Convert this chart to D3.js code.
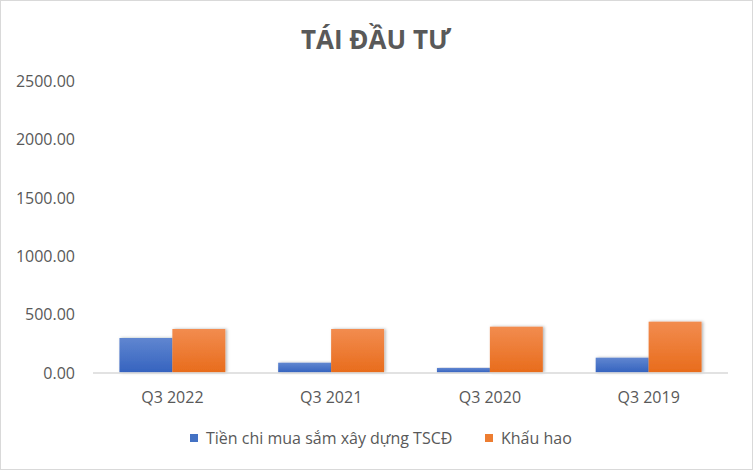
<!DOCTYPE html>
<html><head><meta charset="utf-8">
<script src="https://cdn.jsdelivr.net/npm/d3@7"></script>
<style>body{margin:0;background:#fff}svg{display:block}text{font-family:"Open Sans","Noto Sans",sans-serif}</style>
</head><body>
<svg id="c" width="753" height="470"></svg>
<script>
const categories = ["Q3 2022","Q3 2021","Q3 2020","Q3 2019"];
const seriesNames = ["Tiền chi mua sắm xây dựng TSCĐ","Khấu hao"];
const capex = [296, 84, 39, 127];
const depreciation = [373, 373, 393, 436];
const yTicks = [0,500,1000,1500,2000,2500];
const title = "TÁI ĐẦU TƯ";

const svg = d3.select("#c");
const W=753,H=470;
svg.append("rect").attr("x",0.5).attr("y",0.5).attr("width",W-1).attr("height",H-1).attr("fill","#fff").attr("stroke","#d9d9d9");

const defs = svg.append("defs");
function grad(id,top,bot){
  const g=defs.append("linearGradient").attr("id",id).attr("x1",0).attr("y1",0).attr("x2",0).attr("y2",1);
  g.append("stop").attr("offset","0%").attr("stop-color",top);
  g.append("stop").attr("offset","100%").attr("stop-color",bot);
}
grad("gb","#6086d0","#3563bf");
grad("go","#f28c4f","#e86c1c");
const f=defs.append("filter").attr("id","sh").attr("x","-20%").attr("y","-20%").attr("width","140%").attr("height","140%");
f.append("feDropShadow").attr("dx",1.5).attr("dy",0).attr("stdDeviation",1.5).attr("flood-color","#000").attr("flood-opacity",0.3);

const m={l:93,r:25,t:81,b:97.5};
const x=d3.scaleBand().domain(categories).range([m.l,W-m.r]).paddingInner(0.333).paddingOuter(0.1665);
const x1=d3.scaleBand().domain([0,1]).range([0,x.bandwidth()]);
const y=d3.scaleLinear().domain([0,2500]).range([H-m.b,m.t]);

svg.append("text").attr("x",376).attr("y",49).attr("text-anchor","middle").attr("font-size",26).attr("font-weight","bold").attr("fill","#595959").text(title);

const yAxis=svg.append("g").attr("transform",`translate(${m.l-18},0)`)
  .call(d3.axisLeft(y).tickValues(yTicks).tickFormat(d3.format(".2f")).tickSize(0).tickPadding(0));
yAxis.select(".domain").remove();
yAxis.selectAll("text").attr("font-size",16).attr("fill","#595959").attr("dy","0.35em");

const series=[capex,depreciation];
const fills=["url(#gb)","url(#go)"];
categories.forEach((c,i)=>{
  series.forEach((s,j)=>{
    svg.append("rect").attr("x",x(c)+x1(j)).attr("width",x1.bandwidth())
      .attr("y",y(s[i])).attr("height",y(0)-y(s[i])).attr("fill",fills[j]).attr("filter","url(#sh)");
  });
});

svg.append("line").attr("x1",m.l).attr("x2",W-m.r).attr("y1",y(0)+0.5).attr("y2",y(0)+0.5).attr("stroke","#d9d9d9").attr("stroke-width",1.5);

const xAxis=svg.append("g").attr("transform",`translate(0,${y(0)})`).call(d3.axisBottom(x).tickSize(0).tickPadding(0));
xAxis.select(".domain").remove();
xAxis.selectAll("text").attr("font-size",16).attr("fill","#595959").attr("dy","1.9em");

const leg=[{x:190,c:"#4472c4",t:seriesNames[0]},{x:485,c:"#ed7d31",t:seriesNames[1]}];
leg.forEach(d=>{
  svg.append("rect").attr("x",d.x).attr("y",434).attr("width",8).attr("height",8).attr("fill",d.c);
  svg.append("text").attr("x",d.x+16).attr("y",444).attr("font-size",16).attr("fill","#595959").text(d.t);
});
</script>
</body></html>
